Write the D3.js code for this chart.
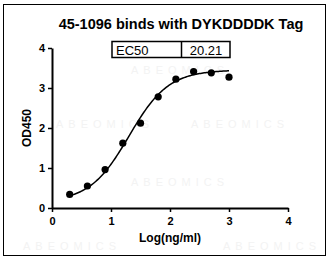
<!DOCTYPE html>
<html>
<head>
<meta charset="utf-8">
<script src="https://cdn.jsdelivr.net/npm/d3@7"></script>
<style>
  body { margin: 0; background: #fff; }
  svg { display: block; font-family: "Liberation Sans", Arial, sans-serif; }
</style>
</head>
<body>
<svg width="330" height="260"></svg>
<script>
// measured points
const logConc = [0.3, 0.6, 0.9, 1.2, 1.5, 1.8, 2.1, 2.4, 2.7, 3.0];
const od450 = [0.34, 0.55, 0.96, 1.62, 2.12, 2.78, 3.22, 3.41, 3.38, 3.27];
const xTicks = [0, 1, 2, 3, 4];
const yTicks = [0, 1, 2, 3, 4];

// 4PL fit
const ec50 = 20.21;
const fitBottom = 0.15, fitTop = 3.45, hill = 1.3;
const logEC50 = Math.log10(ec50);
const fit = x => fitBottom + (fitTop - fitBottom) / (1 + Math.pow(10, (logEC50 - x) * hill));

const svg = d3.select("svg");

// outer frame
svg.append("rect")
  .attr("x", 3.5).attr("y", 4.5)
  .attr("width", 322).attr("height", 251)
  .attr("fill", "none").attr("stroke", "#000").attr("stroke-width", 1);

// faint watermark
const wm = [[180, 74], [105, 128], [240, 128], [180, 186], [72, 250], [272, 250]];
svg.selectAll("text.wm")
  .data(wm)
  .join("text")
  .attr("class", "wm")
  .attr("x", d => d[0]).attr("y", d => d[1])
  .attr("text-anchor", "middle")
  .attr("font-size", 11)
  .attr("letter-spacing", 5)
  .attr("fill", "#f3f3f3")
  .text("ABEOMICS");

const x = d3.scaleLinear().domain([0, 4]).range([52, 288]);
const y = d3.scaleLinear().domain([0, 4]).range([208, 48]);

const xAxis = svg.append("g")
  .attr("transform", "translate(0,208)")
  .call(d3.axisBottom(x).tickValues(xTicks).tickFormat(d3.format("d")).tickSize(4).tickSizeOuter(0));
const yAxis = svg.append("g")
  .attr("transform", "translate(52,0)")
  .call(d3.axisLeft(y).tickValues(yTicks).tickFormat(d3.format("d")).tickSize(4).tickSizeOuter(0));

[xAxis, yAxis].forEach(g => {
  g.select(".domain").attr("stroke-width", 2);
  g.selectAll(".tick line").attr("stroke-width", 1.5);
  g.selectAll("text")
    .attr("font-family", "Liberation Sans, Arial, sans-serif")
    .attr("font-size", 11).attr("font-weight", "bold").attr("fill", "#000");
});
xAxis.selectAll("text").attr("dy", "0.9em");

// fitted curve
const curve = d3.range(0.3, 3.0001, 0.02);
svg.append("path")
  .datum(curve)
  .attr("fill", "none").attr("stroke", "#000").attr("stroke-width", 1.5)
  .attr("d", d3.line().x(d => x(d)).y(d => y(fit(d))));

svg.selectAll("circle.pt")
  .data(logConc)
  .join("circle")
  .attr("class", "pt")
  .attr("cx", d => x(d))
  .attr("cy", (d, i) => y(od450[i]))
  .attr("r", 3.6)
  .attr("fill", "#000");

// title
svg.append("text")
  .attr("x", 181).attr("y", 29)
  .attr("text-anchor", "middle")
  .attr("font-size", 14.5).attr("font-weight", "bold")
  .text("45-1096 binds with DYKDDDDK Tag");

// EC50 box
const box = svg.append("g");
box.append("rect").attr("x", 112).attr("y", 41.5).attr("width", 118).attr("height", 16)
  .attr("fill", "#fff").attr("stroke", "#000").attr("stroke-width", 1.5);
box.append("line").attr("x1", 181.5).attr("x2", 181.5).attr("y1", 41.5).attr("y2", 57.5)
  .attr("stroke", "#000").attr("stroke-width", 1.5);
box.append("text").attr("x", 116).attr("y", 54.5).attr("font-size", 13).text("EC50");
box.append("text").attr("x", 206).attr("y", 54.5).attr("text-anchor", "middle").attr("font-size", 13)
  .text(ec50.toFixed(2));

// axis titles
svg.append("text")
  .attr("x", 170).attr("y", 242)
  .attr("text-anchor", "middle")
  .attr("font-size", 12).attr("font-weight", "bold")
  .text("Log(ng/ml)");
svg.append("text")
  .attr("transform", "translate(31,128) rotate(-90)")
  .attr("text-anchor", "middle")
  .attr("font-size", 12).attr("font-weight", "bold")
  .text("OD450");
</script>
</body>
</html>
